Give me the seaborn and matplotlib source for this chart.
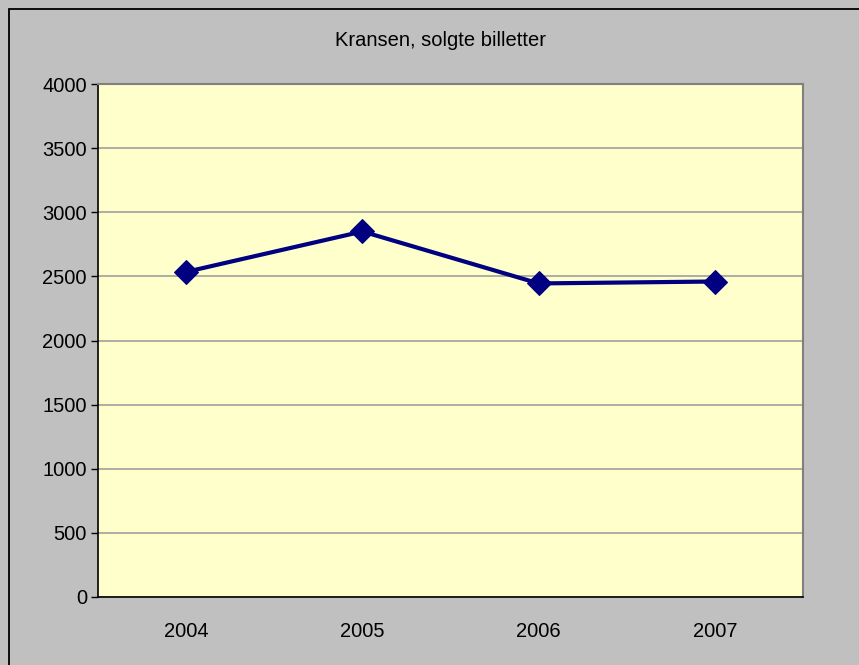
import matplotlib
matplotlib.use("Agg")
import matplotlib.pyplot as plt
import seaborn as sns
import pandas as pd
from matplotlib.patches import Rectangle

years = ["2004", "2005", "2006", "2007"]
tickets = [2535, 2850, 2445, 2460]
yticks = [0, 500, 1000, 1500, 2000, 2500, 3000, 3500, 4000]
title = "Kransen, solgte billetter"

sns.set_theme(style="white")
plt.rcParams['font.family'] = ['Liberation Sans', 'DejaVu Sans']

df = pd.DataFrame({"year": years, "tickets": tickets})

fig = plt.figure(figsize=(8.59, 6.65), dpi=100, facecolor="#C0C0C0")
W, H = 859, 665
ax = fig.add_axes([98 / W, 1 - 597 / H, (803 - 98) / W, (597 - 84) / H])
ax.set_facecolor("#FFFFCC")

x = list(range(len(years)))
sns.lineplot(x=x, y=df["tickets"], ax=ax, color="#000080", linewidth=3,
             marker="D", markersize=12, markeredgecolor="#000080", zorder=3)

ax.set_xlim(-0.5, len(years) - 0.5)
ax.set_ylim(0, 4000)
ax.set_yticks(yticks)
ax.set_yticklabels([str(v) for v in yticks], fontsize=14.5, color="black")
ax.set_xticks(x)
ax.set_xticklabels(years, fontsize=14.5, color="black")
ax.tick_params(axis="x", length=0, pad=18)
ax.set_xticks([i - 0.5 for i in range(len(years) + 1)], minor=True)
ax.tick_params(axis="x", which="minor", length=5, width=1, color="black", direction="out")
ax.tick_params(axis="y", length=5, width=1, color="black", direction="out", left=True, pad=3)
ax.yaxis.grid(True, color="#A0A0A0", linewidth=1.2)
ax.set_axisbelow(True)
ax.set_xlabel("")
ax.set_ylabel("")

for side in ["top", "right"]:
    ax.spines[side].set_color("#808080")
    ax.spines[side].set_linewidth(1.5)
for side in ["left", "bottom"]:
    ax.spines[side].set_color("black")
    ax.spines[side].set_linewidth(1.2)

fig.text(440 / W, 1 - 40 / H, title, ha="center", va="center", fontsize=14.5, color="black")

fig.patches.append(Rectangle((8.5 / W, -0.1), 1.2, 1 - 8.5 / H + 0.1, transform=fig.transFigure,
                             fill=False, edgecolor="black", linewidth=1.3))

fig.savefig("out.png", dpi=100, facecolor=fig.get_facecolor())
